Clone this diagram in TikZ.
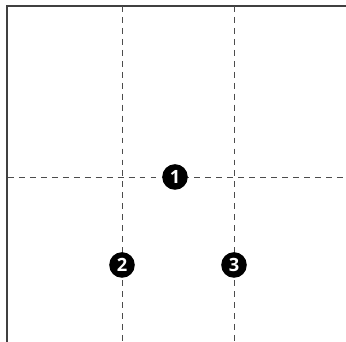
\documentclass[tikz,border=0pt]{standalone}
\usepackage{fontspec}
\newfontfamily\markfont{Open Sans}
\tikzset{
    frame/.style  = {line width=0.75pt, draw=black!75},
    grid/.style   = {line width=0.45pt, draw=black!70, dash pattern=on 4.2pt off 3.6pt},
    marker/.style = {circle, fill=black, text=white, inner sep=0pt, minimum size=6.4mm,
                     font=\markfont\bfseries\fontsize{13}{13}\selectfont}
}
\begin{document}
\begin{tikzpicture}

    \useasboundingbox (0,0) rectangle (8.65,8.55);

    % ---------- frame corner ----------
    \coordinate (BL) at (0.175,0);
    \coordinate (TL) at (0.175,8.4);
    \coordinate (TR) at (8.65,8.4);
    \draw[frame] (BL) -- (TL) -- (TR);

    % ---------- dashed division lines ----------
    \coordinate (V1top) at (3.05,8.4);
    \coordinate (V1bot) at (3.05,0);
    \coordinate (V2top) at (5.85,8.4);
    \coordinate (V2bot) at (5.85,0);
    \coordinate (Hleft)  at (0.2,4.125);
    \coordinate (Hright) at (8.65,4.125);

    \draw[grid] (V1top) -- (V1bot);
    \draw[grid] (V2top) -- (V2bot);
    \draw[grid] (Hleft) -- (Hright);

    % ---------- numbered markers ----------
    \node[marker] (one)   at (4.375,4.125) {1};
    \node[marker] (two)   at (3.05,1.925)  {2};
    \node[marker] (three) at (5.85,1.925)  {3};

\end{tikzpicture}
\end{document}
